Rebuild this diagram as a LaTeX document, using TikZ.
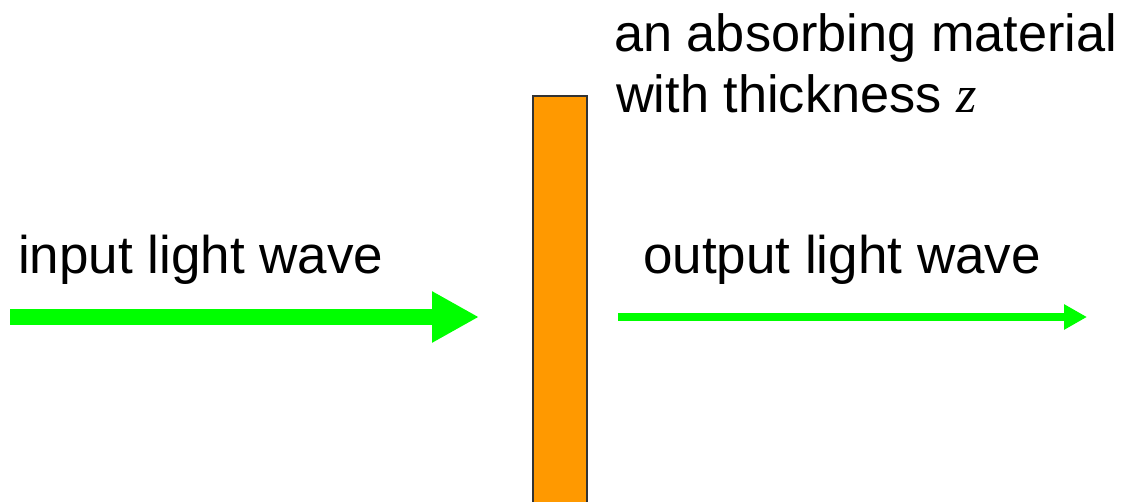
\documentclass[tikz,border=0pt]{standalone}
\usepackage{fontspec}
\setmainfont{Liberation Sans}
\newfontfamily\zfont{Liberation Serif}
\usetikzlibrary{arrows.meta}
\definecolor{lightgreen}{HTML}{00FF00}
\definecolor{barorange}{HTML}{FF9900}
\tikzset{
  label text/.style={inner sep=0pt, anchor=base west, font=\fontsize{53}{61}\selectfont},
  top text/.style={label text, font=\fontsize{52.3}{61}\selectfont},
  thick wave/.style={draw=lightgreen, line width=16pt, -{Triangle[length=47pt,width=48pt]}},
  thin wave/.style={draw=lightgreen, line width=8pt, -{Triangle[length=23pt,width=24pt]}},
  absorber/.style={draw=black!80, line width=1.6pt, fill=barorange, minimum width=54pt, minimum height=440pt, inner sep=0pt, anchor=north}
}
\begin{document}
\begin{tikzpicture}[x=1pt,y=-1pt]
\useasboundingbox (0,0) rectangle (1128,502);
\clip (0,0) rectangle (1128,502);
\node[absorber] (bar) at (560,95) {};
\node[label text] (intext) at (18,274) {input light wave};
\node[label text] (outtext) at (643,274) {output light wave};
\node[top text] (mat1) at (614,52) {an absorbing material};
\node[top text] (mat2) at (616,113) {with thickness {\zfont\itshape z}};
\coordinate (inA) at (10,317);
\coordinate (inB) at (479,317);
\coordinate (outA) at (618,317);
\coordinate (outB) at (1087,317);
\draw[thick wave] (inA) -- (inB);
\draw[thin wave] (outA) -- (outB);
\end{tikzpicture}
\end{document}
